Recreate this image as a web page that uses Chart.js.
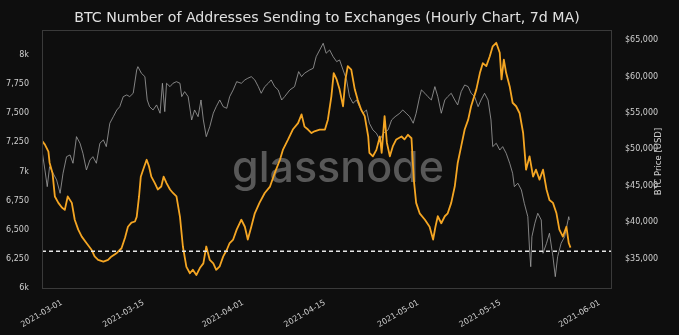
<!DOCTYPE html>
<html>
<head>
<meta charset="utf-8">
<script src="https://cdn.jsdelivr.net/npm/chart.js@4.4.0/dist/chart.umd.min.js"></script>
<style>
html, body { margin: 0; padding: 0; background: #0e0e0e; }
</style>
</head>
<body>
<canvas id="chart" width="679" height="335"></canvas>
<script>
// x values are days since 2021-03-01 (hourly 7d MA)
const xTickDays = [0, 14, 31, 45, 61, 75, 92];
const xTickLabels = ['2021-03-01', '2021-03-15', '2021-04-01', '2021-04-15', '2021-05-01', '2021-05-15', '2021-06-01'];
const leftTicks = [6000, 6250, 6500, 6750, 7000, 7250, 7500, 7750, 8000];
const rightTicks = [35000, 40000, 45000, 50000, 55000, 60000, 65000];

const addrDays = [-3.5,-2.9,-2.3,-2.1,-1.6,-1.2,-0.6,0.0,0.5,1.0,
  1.7,2.2,2.8,3.4,4.2,5.1,5.6,6.2,7.1,7.9,
  8.5,9.4,10.2,10.8,11.3,11.9,12.5,12.8,13.2,13.5,
  13.9,14.5,14.9,15.3,15.9,16.4,17.0,17.4,17.9,18.5,
  19.0,19.6,20.2,20.7,21.3,21.9,22.4,23.0,23.6,24.2,
  24.7,25.3,25.9,26.4,27.0,27.6,28.2,28.7,29.3,29.9,
  30.7,31.3,31.8,32.4,33.0,33.8,34.7,35.6,36.4,37.3,
  37.8,38.7,39.5,40.4,41.0,41.5,42.1,42.7,43.2,44.1,
  45.0,45.5,46.1,46.5,47.0,47.5,48.1,48.5,48.9,49.5,
  50.1,50.6,51.2,51.8,52.4,52.6,53.2,53.8,54.4,54.7,
  55.2,55.6,56.1,56.6,57.2,58.1,58.6,59.2,59.8,60.2,
  60.6,61.2,62.1,62.9,63.5,63.9,64.3,64.9,65.5,66.0,
  66.6,67.2,67.7,68.3,68.9,69.5,70.0,70.9,71.5,72.0,
  72.6,73.2,73.7,74.3,74.9,75.2,75.6,76.0,76.6,77.1,
  77.7,78.3,78.9,79.4,80.0,80.6,81.1,81.7,82.3,82.9,
  83.4,84.0,84.6,85.1,85.7,86.3,86.7,87.0];
const addrVals = [7270,7230,7170,7075,6985,6785,6730,6690,6670,6785,
  6730,6585,6500,6440,6385,6325,6270,6240,6225,6240,
  6270,6300,6340,6430,6525,6560,6570,6610,6785,6955,
  7015,7100,7045,6955,6900,6845,6870,6955,6900,6845,
  6815,6785,6610,6355,6180,6125,6155,6110,6170,6210,
  6355,6240,6210,6155,6185,6270,6325,6385,6415,6500,
  6585,6525,6415,6525,6640,6730,6815,6870,6985,7100,
  7185,7275,7360,7415,7490,7385,7360,7330,7345,7360,
  7360,7445,7645,7845,7790,7705,7560,7790,7905,7875,
  7705,7615,7530,7475,7300,7160,7130,7185,7300,7160,
  7475,7245,7130,7215,7275,7300,7275,7315,7285,6930,
  6730,6640,6585,6525,6415,6525,6615,6555,6615,6640,
  6730,6870,7070,7215,7360,7445,7560,7705,7845,7930,
  7905,7990,8075,8105,8020,7790,7960,7845,7730,7590,
  7560,7500,7330,7015,7130,6955,7015,6930,7015,6845,
  6755,6730,6640,6500,6440,6525,6385,6345];

const priceDays = [-3.5,-2.9,-2.5,-2.1,-1.5,-0.9,-0.3,0.2,0.8,1.4,
  1.9,2.5,3.1,3.6,4.2,4.8,5.3,5.9,6.5,7.1,
  7.6,8.2,8.8,9.4,9.9,10.5,11.1,11.6,12.2,12.8,
  13.0,13.6,14.2,14.6,15.0,15.6,16.2,16.8,17.2,17.6,
  17.9,18.5,19.0,19.6,20.2,20.5,21.0,21.6,22.2,22.7,
  23.3,23.8,24.2,24.7,25.3,25.9,26.4,27.0,27.6,28.2,
  28.7,29.3,29.9,30.7,31.3,31.8,32.4,33.0,33.6,34.1,
  34.7,35.3,35.8,36.4,37.0,37.6,38.1,39.0,39.8,40.5,
  41.0,41.5,42.4,43.0,43.5,44.1,44.7,45.2,45.8,46.4,
  47.0,47.5,48.1,48.7,49.2,49.8,50.4,50.9,51.5,52.1,
  52.6,53.2,53.8,54.4,55.0,55.8,56.4,57.0,57.8,58.3,
  58.9,59.5,60.1,60.6,61.2,61.5,62.1,62.6,63.2,63.8,
  64.3,64.9,65.5,66.0,66.6,67.2,67.7,68.3,68.9,69.5,
  70.0,70.6,71.2,71.7,72.3,72.9,73.4,73.7,74.3,74.9,
  75.4,76.0,76.6,77.1,77.4,78.0,78.6,79.1,79.7,80.0,
  80.2,80.4,80.9,81.4,82.0,82.3,82.9,83.4,84.0,84.4,
  84.8,85.4,86.0,86.7,86.8];
const priceVals = [50370,47170,44880,47620,46720,45800,43970,46720,48990,49230,
  48090,51740,50830,49460,47170,48540,48990,48090,50830,51290,
  50370,53580,54480,55400,55850,57230,57460,57230,57690,60890,
  61340,60440,59970,56770,55850,55400,56090,54950,59060,55170,
  59060,58600,59060,59280,59060,57230,57910,57230,54030,55400,
  54480,56770,54030,51740,53110,54950,55850,56770,55850,55630,
  57230,58150,59280,59060,59520,59750,59970,59520,58600,57690,
  58600,59060,59520,58600,58150,56770,57230,58150,58600,60660,
  59970,60440,60890,61120,62710,63630,64550,63180,63630,62710,
  62030,62260,60890,59520,57230,56320,56770,55850,54950,55400,
  53580,52660,52210,51290,52210,52660,54030,54480,54950,55400,
  54950,54480,53580,54950,57230,58150,57690,57230,56770,58600,
  57230,54950,56770,57230,57690,56770,56090,57910,58830,58600,
  57690,57230,55850,56770,57690,56770,54030,50370,50830,49910,
  50370,49460,48090,46720,44880,45350,44430,42600,40760,36190,
  33900,38020,39860,41230,40310,35740,37110,38490,35270,32530,
  35270,37110,38020,40760,40310];

const thresholdLevel = 6315;

const X_MIN = -3.4, X_MAX = 94.1;
const TXT = '#cfcfcf';
const tickFont = { family: 'DejaVu Sans', size: 8 };

function fmtLeft(v) {
  if (v % 1000 === 0) return (v / 1000) + 'k';
  return v.toLocaleString('en-US');
}

const bgPlugin = {
  id: 'bg',
  beforeDraw(chart) {
    const ctx = chart.ctx;
    ctx.save();
    ctx.fillStyle = '#0e0e0e';
    ctx.fillRect(0, 0, chart.width, chart.height);
    ctx.restore();
  }
};

const markPlugin = {
  id: 'mark',
  beforeDatasetsDraw(chart) {
    const ctx = chart.ctx;
    ctx.save();
    ctx.fillStyle = '#585858';
    ctx.font = '500 43px Inter';
    ctx.textAlign = 'center';
    ctx.textBaseline = 'alphabetic';
    ctx.fillText('glassnode', 338, 182);
    ctx.restore();
  }
};

const framePlugin = {
  id: 'frame',
  afterDraw(chart) {
    const a = chart.chartArea;
    const ctx = chart.ctx;
    ctx.save();
    ctx.strokeStyle = '#3a3a3a';
    ctx.lineWidth = 1;
    ctx.strokeRect(a.left + 0.5, a.top + 0.5, a.right - a.left - 1, a.bottom - a.top - 1);
    // title centred over the plot area
    ctx.fillStyle = '#e0e0e0';
    ctx.font = '14.2px "DejaVu Sans"';
    ctx.textAlign = 'center';
    ctx.textBaseline = 'middle';
    ctx.fillText('BTC Number of Addresses Sending to Exchanges (Hourly Chart, 7d MA)', (a.left + a.right) / 2, 18);
    // right axis title, reads bottom to top
    ctx.translate(659, (a.top + a.bottom) / 2 + 2);
    ctx.rotate(-Math.PI / 2);
    ctx.fillStyle = TXT;
    ctx.font = '8.5px "DejaVu Sans"';
    ctx.fillText('BTC Price [USD]', 0, 0);
    ctx.restore();
  }
};

new Chart(document.getElementById('chart'), {
  type: 'line',
  data: {
    datasets: [{
      label: 'threshold',
      data: [{ x: X_MIN, y: thresholdLevel }, { x: X_MAX, y: thresholdLevel }],
      borderColor: '#e6e6e6',
      borderWidth: 1.5,
      borderDash: [4, 3],
      yAxisID: 'y',
      order: 0
    }, {
      label: 'Addresses sending to exchanges',
      data: addrDays.map((d, i) => ({ x: d, y: addrVals[i] })),
      borderColor: '#f5a623',
      borderWidth: 1.8,
      yAxisID: 'y',
      order: 1
    }, {
      label: 'BTC Price',
      data: priceDays.map((d, i) => ({ x: d, y: priceVals[i] })),
      borderColor: 'rgba(160,160,160,0.8)',
      borderWidth: 1,
      yAxisID: 'y1',
      order: 2
    }]
  },
  options: {
    responsive: false,
    devicePixelRatio: 1,
    animation: false,
    layout: { padding: { top: 30 } },
    elements: {
      point: { radius: 0 },
      line: { tension: 0, borderJoinStyle: 'round' }
    },
    plugins: {
      legend: { display: false },
      tooltip: { enabled: false },
      title: { display: false }
    },
    scales: {
      x: {
        type: 'linear',
        min: X_MIN,
        max: X_MAX,
        grid: { display: false },
        border: { display: false },
        afterBuildTicks(scale) { scale.ticks = xTickDays.map(v => ({ value: v })); },
        afterFit(scale) { scale.height = 46; },
        ticks: {
          autoSkip: false,
          minRotation: 30,
          maxRotation: 30,
          padding: 1,
          color: TXT,
          font: tickFont,
          callback: (v) => xTickLabels[xTickDays.indexOf(v)]
        }
      },
      y: {
        position: 'left',
        min: 5990,
        max: 8215,
        grid: { display: false },
        border: { display: false },
        afterBuildTicks(scale) { scale.ticks = leftTicks.map(v => ({ value: v })); },
        afterFit(scale) { scale.width = 42; },
        ticks: { padding: 5, color: TXT, font: tickFont, callback: (v) => fmtLeft(v) }
      },
      y1: {
        position: 'right',
        min: 30840,
        max: 66370,
        grid: { display: false },
        border: { display: false },
        afterBuildTicks(scale) { scale.ticks = rightTicks.map(v => ({ value: v })); },
        afterFit(scale) { scale.width = 67; },
        ticks: { padding: 5, color: TXT, font: tickFont, callback: (v) => '$' + v.toLocaleString('en-US') }
      }
    }
  },
  plugins: [bgPlugin, markPlugin, framePlugin]
});
</script>
</body>
</html>
